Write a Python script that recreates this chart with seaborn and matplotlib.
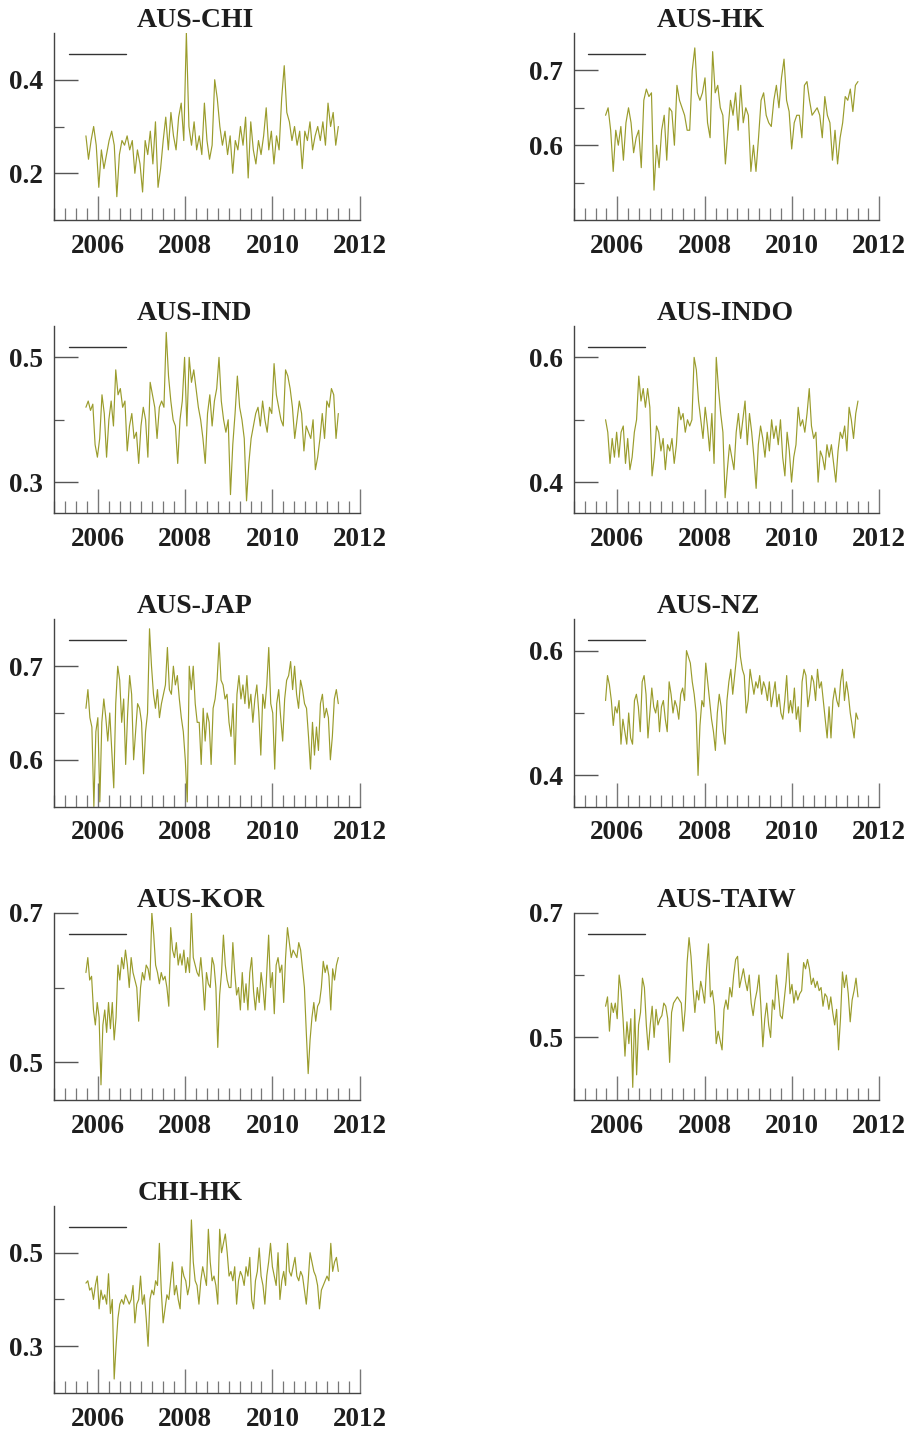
import numpy as np
import matplotlib
matplotlib.use("Agg")
import matplotlib.pyplot as plt
from matplotlib.lines import Line2D
from matplotlib.ticker import FixedLocator, MultipleLocator, FuncFormatter
import seaborn as sns

# sample span (weekly data, sep-2005 .. jul-2011)
t_start, t_end = 2005.73, 2011.51

aus_chi = [0.28, 0.23, 0.27, 0.30, 0.26,
           0.17, 0.25, 0.21, 0.24, 0.27, 0.29, 0.26, 0.15, 0.24, 0.27, 0.26, 0.28, 0.25, 0.27, 0.20, 0.25, 0.22,
           0.16, 0.27, 0.24, 0.29, 0.22, 0.31, 0.17, 0.21, 0.27, 0.32, 0.25, 0.33, 0.28, 0.25, 0.32, 0.35, 0.27,
           0.50, 0.30, 0.26, 0.31, 0.25, 0.28, 0.24, 0.35, 0.27, 0.23, 0.26, 0.40, 0.36, 0.30, 0.26, 0.29, 0.24,
           0.28, 0.20, 0.27, 0.25, 0.30, 0.26, 0.32, 0.19, 0.31, 0.25, 0.22, 0.27, 0.24, 0.28, 0.34, 0.25, 0.29,
           0.22, 0.28, 0.25, 0.36, 0.43, 0.33, 0.31, 0.27, 0.30, 0.26, 0.29, 0.21, 0.29, 0.27, 0.31, 0.25, 0.28,
           0.30, 0.27, 0.31, 0.26, 0.35, 0.30, 0.33, 0.26, 0.30]

aus_hk = [0.64, 0.65, 0.62, 0.565, 0.62, 0.60, 0.625, 0.58, 0.63, 0.65, 0.63, 0.59, 0.61, 0.62, 0.57,
          0.66, 0.675, 0.665, 0.67, 0.54, 0.60, 0.57, 0.62, 0.64, 0.58, 0.65, 0.645, 0.60, 0.68, 0.66,
          0.65, 0.64, 0.62, 0.62, 0.70, 0.73, 0.67, 0.66, 0.67, 0.69, 0.63, 0.61, 0.725, 0.67, 0.68,
          0.65, 0.64, 0.575, 0.62, 0.66, 0.64, 0.67, 0.62, 0.68, 0.63, 0.65, 0.64, 0.565, 0.60, 0.565,
          0.61, 0.66, 0.67, 0.64, 0.63, 0.625, 0.66, 0.68, 0.65, 0.69, 0.715, 0.66, 0.645, 0.595, 0.63,
          0.64, 0.64, 0.61, 0.68, 0.685, 0.66, 0.64, 0.645, 0.65, 0.64, 0.61, 0.665, 0.64, 0.63, 0.58,
          0.62, 0.575, 0.61, 0.63, 0.665, 0.66, 0.675, 0.645, 0.68, 0.685]

aus_ind = [0.42, 0.43, 0.415, 0.425, 0.36, 0.34, 0.37, 0.44, 0.41, 0.34, 0.40, 0.43, 0.39, 0.48, 0.44,
           0.45, 0.42, 0.43, 0.35, 0.39, 0.41, 0.37, 0.38, 0.33, 0.39, 0.42, 0.40, 0.34, 0.46, 0.44,
           0.42, 0.37, 0.42, 0.43, 0.42, 0.54, 0.47, 0.43, 0.40, 0.39, 0.33, 0.40, 0.43, 0.50, 0.39,
           0.50, 0.46, 0.48, 0.45, 0.42, 0.40, 0.37, 0.33, 0.41, 0.44, 0.39, 0.43, 0.45, 0.50, 0.43,
           0.40, 0.38, 0.40, 0.28, 0.36, 0.41, 0.47, 0.42, 0.40, 0.37, 0.27, 0.33, 0.37, 0.39, 0.41,
           0.42, 0.39, 0.43, 0.40, 0.38, 0.42, 0.41, 0.49, 0.44, 0.42, 0.40, 0.39, 0.48, 0.47, 0.45,
           0.42, 0.37, 0.40, 0.43, 0.41, 0.35, 0.39, 0.38, 0.37, 0.40, 0.32, 0.34, 0.37, 0.41, 0.37,
           0.43, 0.42, 0.45, 0.44, 0.37, 0.41]

aus_indo = [0.50, 0.48, 0.43, 0.47, 0.44, 0.48, 0.44, 0.48, 0.49, 0.43, 0.47, 0.42, 0.44, 0.48, 0.50,
            0.57, 0.53, 0.55, 0.52, 0.55, 0.52, 0.41, 0.44, 0.49, 0.48, 0.45, 0.47, 0.42, 0.46, 0.45,
            0.47, 0.43, 0.46, 0.52, 0.50, 0.51, 0.48, 0.50, 0.49, 0.50, 0.60, 0.58, 0.53, 0.50, 0.47,
            0.52, 0.49, 0.45, 0.51, 0.43, 0.60, 0.55, 0.51, 0.48, 0.375, 0.42, 0.46, 0.44, 0.42, 0.48,
            0.51, 0.47, 0.50, 0.53, 0.46, 0.51, 0.48, 0.44, 0.39, 0.46, 0.49, 0.47, 0.44, 0.48, 0.45,
            0.50, 0.47, 0.49, 0.46, 0.50, 0.44, 0.41, 0.48, 0.45, 0.40, 0.44, 0.46, 0.52, 0.49, 0.50,
            0.48, 0.51, 0.55, 0.49, 0.47, 0.48, 0.40, 0.45, 0.44, 0.42, 0.46, 0.44, 0.46, 0.43, 0.40,
            0.45, 0.48, 0.47, 0.49, 0.45, 0.52, 0.50, 0.47, 0.51, 0.53]

aus_jap = [0.655, 0.675, 0.645, 0.635, 0.55, 0.63, 0.645, 0.555, 0.64, 0.665, 0.645, 0.62, 0.65, 0.61,
           0.57, 0.66, 0.70, 0.685, 0.64, 0.665, 0.595, 0.65, 0.69, 0.67, 0.60, 0.63, 0.66, 0.655,
           0.64, 0.585, 0.63, 0.65, 0.74, 0.70, 0.67, 0.655, 0.675, 0.645, 0.66, 0.67, 0.68, 0.72,
           0.675, 0.67, 0.70, 0.68, 0.69, 0.665, 0.645, 0.63, 0.60, 0.555, 0.70, 0.675, 0.70, 0.66,
           0.64, 0.64, 0.595, 0.655, 0.62, 0.65, 0.64, 0.595, 0.655, 0.665, 0.685, 0.725, 0.685, 0.68,
           0.665, 0.67, 0.64, 0.625, 0.66, 0.595, 0.67, 0.69, 0.665, 0.68, 0.66, 0.69, 0.655, 0.67,
           0.64, 0.665, 0.68, 0.65, 0.605, 0.67, 0.655, 0.68, 0.72, 0.66, 0.65, 0.59, 0.66, 0.675,
           0.645, 0.62, 0.665, 0.685, 0.69, 0.705, 0.675, 0.70, 0.67, 0.655, 0.685, 0.675, 0.66,
           0.655, 0.625, 0.59, 0.64, 0.605, 0.635, 0.61, 0.66, 0.67, 0.645, 0.655, 0.645, 0.60, 0.625,
           0.665, 0.675, 0.66]

aus_nz = [0.52, 0.56, 0.545, 0.52, 0.48, 0.51, 0.50, 0.52, 0.45, 0.49, 0.47, 0.45, 0.50, 0.46, 0.45,
          0.52, 0.53, 0.51, 0.47, 0.55, 0.56, 0.53, 0.46, 0.50, 0.54, 0.51, 0.50, 0.52, 0.47, 0.51,
          0.52, 0.49, 0.47, 0.55, 0.53, 0.50, 0.52, 0.51, 0.49, 0.53, 0.54, 0.52, 0.60, 0.59, 0.58,
          0.55, 0.53, 0.50, 0.40, 0.48, 0.52, 0.51, 0.58, 0.55, 0.52, 0.49, 0.47, 0.44, 0.50, 0.53,
          0.51, 0.47, 0.45, 0.52, 0.55, 0.57, 0.53, 0.56, 0.59, 0.63, 0.59, 0.57, 0.56, 0.50, 0.52,
          0.57, 0.55, 0.53, 0.55, 0.54, 0.56, 0.53, 0.55, 0.54, 0.52, 0.55, 0.51, 0.53, 0.55, 0.51,
          0.53, 0.50, 0.49, 0.52, 0.56, 0.50, 0.52, 0.50, 0.54, 0.49, 0.51, 0.47, 0.55, 0.57, 0.56,
          0.51, 0.53, 0.56, 0.55, 0.52, 0.57, 0.54, 0.55, 0.52, 0.49, 0.46, 0.51, 0.46, 0.52, 0.54,
          0.52, 0.51, 0.55, 0.57, 0.52, 0.55, 0.53, 0.50, 0.48, 0.46, 0.50, 0.49]

aus_kor = [0.62, 0.64, 0.61, 0.615, 0.57, 0.55, 0.58, 0.56, 0.47, 0.55, 0.57, 0.54, 0.58, 0.545,
           0.58, 0.53, 0.56, 0.63, 0.61, 0.64, 0.625, 0.65, 0.63, 0.60, 0.64, 0.62, 0.61, 0.60,
           0.555, 0.60, 0.62, 0.61, 0.63, 0.625, 0.61, 0.70, 0.67, 0.63, 0.62, 0.605, 0.62, 0.61,
           0.615, 0.60, 0.575, 0.68, 0.65, 0.64, 0.66, 0.63, 0.645, 0.63, 0.65, 0.62, 0.64, 0.62,
           0.70, 0.64, 0.63, 0.62, 0.615, 0.64, 0.61, 0.57, 0.62, 0.605, 0.60, 0.64, 0.63, 0.60,
           0.52, 0.59, 0.62, 0.67, 0.63, 0.61, 0.60, 0.60, 0.66, 0.62, 0.59, 0.60, 0.57, 0.62,
           0.58, 0.605, 0.57, 0.62, 0.64, 0.595, 0.57, 0.60, 0.58, 0.62, 0.60, 0.57, 0.62, 0.67,
           0.60, 0.62, 0.565, 0.63, 0.64, 0.62, 0.63, 0.58, 0.64, 0.68, 0.66, 0.64, 0.65, 0.645,
           0.64, 0.66, 0.65, 0.625, 0.60, 0.54, 0.485, 0.53, 0.56, 0.58, 0.555, 0.575, 0.58, 0.60,
           0.635, 0.62, 0.63, 0.615, 0.57, 0.625, 0.61, 0.63, 0.64]

aus_taiw = [0.55, 0.565, 0.51, 0.555, 0.54, 0.555, 0.53, 0.60, 0.575, 0.53, 0.47, 0.525, 0.49, 0.53,
            0.42, 0.545, 0.44, 0.52, 0.54, 0.595, 0.58, 0.52, 0.48, 0.52, 0.55, 0.50, 0.545, 0.52,
            0.53, 0.535, 0.555, 0.55, 0.53, 0.46, 0.54, 0.555, 0.56, 0.565, 0.56, 0.555, 0.51, 0.545,
            0.62, 0.66, 0.63, 0.58, 0.54, 0.575, 0.56, 0.59, 0.575, 0.555, 0.61, 0.65, 0.565, 0.575,
            0.55, 0.49, 0.51, 0.495, 0.48, 0.545, 0.56, 0.545, 0.58, 0.565, 0.60, 0.625, 0.63, 0.58,
            0.595, 0.61, 0.59, 0.575, 0.60, 0.555, 0.535, 0.56, 0.575, 0.60, 0.55, 0.485, 0.53, 0.555,
            0.52, 0.50, 0.56, 0.545, 0.60, 0.57, 0.535, 0.53, 0.56, 0.59, 0.635, 0.57, 0.585, 0.555,
            0.575, 0.56, 0.57, 0.575, 0.62, 0.61, 0.625, 0.61, 0.585, 0.595, 0.58, 0.59, 0.575, 0.58,
            0.55, 0.57, 0.565, 0.545, 0.565, 0.54, 0.52, 0.545, 0.48, 0.53, 0.605, 0.58, 0.60, 0.57,
            0.525, 0.56, 0.575, 0.595, 0.565]

chi_hk = [0.435, 0.44, 0.42, 0.425, 0.40, 0.43, 0.45, 0.38, 0.42, 0.40, 0.41, 0.39, 0.455, 0.37,
          0.40, 0.23, 0.30, 0.36, 0.39, 0.40, 0.39, 0.41, 0.40, 0.39, 0.40, 0.43, 0.35, 0.39, 0.40,
          0.45, 0.39, 0.41, 0.36, 0.30, 0.40, 0.42, 0.41, 0.44, 0.43, 0.52, 0.42, 0.35, 0.38, 0.41,
          0.40, 0.44, 0.48, 0.41, 0.43, 0.40, 0.38, 0.47, 0.45, 0.44, 0.41, 0.43, 0.57, 0.48, 0.44,
          0.43, 0.39, 0.44, 0.47, 0.45, 0.43, 0.55, 0.48, 0.44, 0.45, 0.43, 0.39, 0.55, 0.50, 0.52,
          0.54, 0.50, 0.45, 0.46, 0.44, 0.47, 0.39, 0.44, 0.46, 0.45, 0.43, 0.47, 0.45, 0.49, 0.40,
          0.38, 0.44, 0.46, 0.51, 0.45, 0.43, 0.39, 0.45, 0.48, 0.52, 0.47, 0.45, 0.43, 0.50, 0.40,
          0.44, 0.46, 0.43, 0.52, 0.46, 0.45, 0.47, 0.49, 0.45, 0.44, 0.46, 0.45, 0.42, 0.39, 0.44,
          0.50, 0.48, 0.46, 0.45, 0.43, 0.38, 0.42, 0.43, 0.44, 0.45, 0.44, 0.52, 0.46, 0.48, 0.49,
          0.46]

titles = ["AUS-CHI", "AUS-HK", "AUS-IND", "AUS-INDO", "AUS-JAP",
          "AUS-NZ", "AUS-KOR", "AUS-TAIW", "CHI-HK"]
series = [aus_chi, aus_hk, aus_ind, aus_indo, aus_jap, aus_nz, aus_kor, aus_taiw, chi_hk]

# y ranges and tick values per panel
ylims = [(0.1, 0.5), (0.5, 0.75), (0.25, 0.55), (0.35, 0.65), (0.55, 0.75),
         (0.35, 0.65), (0.45, 0.70), (0.40, 0.70), (0.2, 0.6)]
ymajor = [[0.2, 0.4], [0.6, 0.7], [0.3, 0.5], [0.4, 0.6], [0.6, 0.7],
          [0.4, 0.6], [0.5, 0.7], [0.5, 0.7], [0.3, 0.5]]
yminor = [[0.3], [0.55, 0.65], [0.4], [0.5], [0.65],
          [0.5], [0.6], [0.6], [0.4]]
xticks = [2006, 2008, 2010, 2012]

LINE = "#9a9c2c"
TXT = "#1e1e1e"

sns.set_style("ticks")
plt.rcParams["font.family"] = ["Liberation Serif", "DejaVu Serif"]

fig, axes = plt.subplots(5, 2, figsize=(9.16, 14.32), dpi=100)
fig.subplots_adjust(left=0.059, right=0.96, top=0.977, bottom=0.0272,
                    wspace=0.70, hspace=0.567)

for i, ax in enumerate(axes.flat):
    if i >= len(series):
        ax.set_visible(False)
        continue
    vals = series[i]
    t = np.linspace(t_start, t_end, len(vals))
    sns.lineplot(x=t, y=vals, ax=ax, color=LINE, lw=0.85)

    ax.set_xlim(2005, 2012)
    ax.set_ylim(*ylims[i])
    ax.xaxis.set_major_locator(FixedLocator(xticks))
    ax.xaxis.set_minor_locator(MultipleLocator(0.25))
    ax.xaxis.set_major_formatter(FuncFormatter(lambda v, p: f"{int(round(v))}"))
    ax.yaxis.set_major_locator(FixedLocator(ymajor[i]))
    ax.yaxis.set_minor_locator(FixedLocator(yminor[i]))
    ax.yaxis.set_major_formatter(FuncFormatter(lambda v, p: f"{v:g}"))

    ax.tick_params(axis="x", which="major", direction="in", length=17, width=1,
                   color="#777777", labelsize=19.5, pad=10, labelcolor=TXT)
    ax.tick_params(axis="x", which="minor", direction="in", length=8.5, width=0.9,
                   color="#777777")
    ax.tick_params(axis="y", which="major", direction="in", length=17, width=1,
                   color="#555555", labelsize=19.5, pad=8, labelcolor=TXT)
    ax.tick_params(axis="y", which="minor", direction="in", length=7.5, width=0.9,
                   color="#555555")
    for lab in ax.get_xticklabels() + ax.get_yticklabels():
        lab.set_fontweight("bold")

    sns.despine(ax=ax)
    for s in ("left", "bottom"):
        ax.spines[s].set_color("#444444")
        ax.spines[s].set_linewidth(1.0)

    ax.set_title(titles[i], loc="left", x=0.272, fontsize=20, fontweight="bold",
                 pad=-1, color=TXT)
    ax.set_xlabel("")
    ax.set_ylabel("")

    ax.legend(handles=[Line2D([], [], color="#333333", lw=1.0)], labels=[""],
              loc="upper left", bbox_to_anchor=(0.03, 0.945), borderaxespad=0,
              frameon=False, handlelength=4.1, fontsize=10, handletextpad=0)

fig.savefig("out.png", dpi=100)
